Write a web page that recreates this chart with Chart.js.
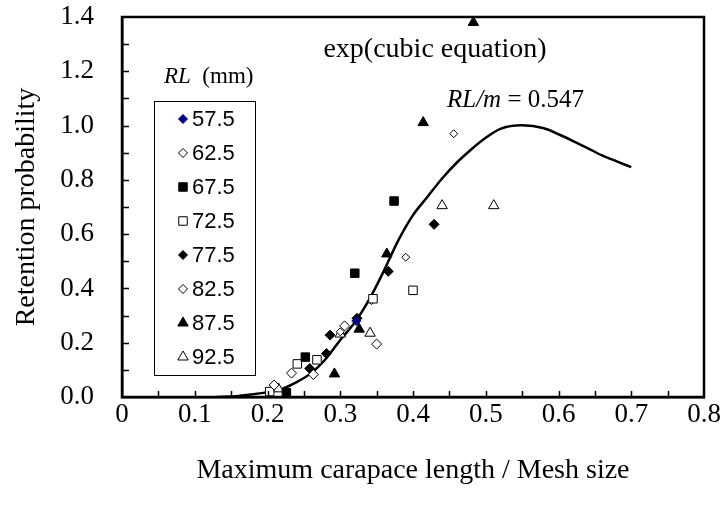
<!DOCTYPE html>
<html><head><meta charset="utf-8">
<script src="https://cdn.jsdelivr.net/npm/chart.js@4.4.0/dist/chart.umd.min.js"></script>
<style>html,body{margin:0;padding:0;background:#fff}#wrap{width:724px;height:507px;position:relative}</style>
</head><body><div id="wrap"><canvas id="c" width="724" height="507"></canvas></div>
<script>
// ---- data ----
const xTickValues = [0, 0.1, 0.2, 0.3, 0.4, 0.5, 0.6, 0.7, 0.8];
const yTickValues = [0, 0.2, 0.4, 0.6, 0.8, 1.0, 1.2, 1.4];
const seriesNames = ['57.5', '62.5', '67.5', '72.5', '77.5', '82.5', '87.5', '92.5'];

const rl575X = [0.322];
const rl575Y = [0.280];
const rl625X = [0.209, 0.233, 0.263, 0.306, 0.350];
const rl625Y = [0.044, 0.088, 0.083, 0.262, 0.195];
const rl675X = [0.226, 0.252, 0.320, 0.374];
const rl675Y = [0.016, 0.147, 0.456, 0.722];
const rl725X = [0.203, 0.241, 0.268, 0.345, 0.400];
const rl725Y = [0.020, 0.122, 0.137, 0.362, 0.393];
const rl775X = [0.258, 0.281, 0.286, 0.323, 0.366, 0.429];
const rl775Y = [0.105, 0.160, 0.228, 0.290, 0.463, 0.636];
const rl825X = [0.300, 0.343, 0.390, 0.456];
const rl825Y = [0.240, 0.355, 0.515, 0.970];
const rl875X = [0.292, 0.326, 0.364, 0.414, 0.483];
const rl875Y = [0.085, 0.250, 0.527, 1.011, 1.380];
const rl925X = [0.215, 0.300, 0.341, 0.440, 0.511];
const rl925Y = [0.030, 0.232, 0.235, 0.705, 0.705];

const curveX = [0.13,0.16,0.18,0.20,0.22,0.24,0.26,0.28,0.30,0.32,0.34,0.36,0.38,0.40,0.42,0.44,0.46,0.48,0.50,0.52,0.55,0.58,0.60,0.62,0.64,0.66,0.68,0.70];
const curveY = [0.000,0.004,0.010,0.018,0.030,0.055,0.088,0.140,0.210,0.275,0.360,0.465,0.578,0.670,0.738,0.805,0.863,0.912,0.955,0.988,1.001,0.990,0.968,0.943,0.917,0.890,0.868,0.847];

// ---- helpers ----
const pts = (xs, ys) => xs.map((x, i) => ({x: x, y: ys[i]}));
const styles = [
  {ps:'rectRot', r:4.5, fill:'#000080', stroke:'#000080'},
  {ps:'rectRot', r:5, fill:'#ffffff', stroke:'#000000'},
  {ps:'rect', r:6, fill:'#000000', stroke:'#000000'},
  {ps:'rect', r:6, fill:'#ffffff', stroke:'#000000'},
  {ps:'rectRot', r:5, fill:'#000000', stroke:'#000000'},
  {ps:'rectRot', r:4, fill:'#ffffff', stroke:'#000000'},
  {ps:'triangle', r:6, fill:'#000000', stroke:'#000000'},
  {ps:'triangle', r:6, fill:'#ffffff', stroke:'#000000'}
];
const seriesX = [rl575X, rl625X, rl675X, rl725X, rl775X, rl825X, rl875X, rl925X];
const seriesY = [rl575Y, rl625Y, rl675Y, rl725Y, rl775Y, rl825Y, rl875Y, rl925Y];

const datasets = [{
  label: 'curve', type: 'line', data: pts(curveX, curveY), showLine: true,
  borderColor: '#000', borderWidth: 2.5, pointRadius: 0, fill: false,
  cubicInterpolationMode: 'monotone', order: 2
}];
seriesNames.forEach((n, i) => {
  const s = styles[i];
  datasets.push({
    label: n, data: pts(seriesX[i], seriesY[i]), showLine: false,
    pointStyle: s.ps, pointRadius: s.r, pointBackgroundColor: s.fill,
    pointBorderColor: s.stroke, pointBorderWidth: 1, order: 1
  });
});

function drawMarker(ctx, s, x, y, r) {
  ctx.save();
  ctx.beginPath();
  if (s.ps === 'rectRot') {
    ctx.moveTo(x, y - r); ctx.lineTo(x + r, y); ctx.lineTo(x, y + r); ctx.lineTo(x - r, y);
  } else if (s.ps === 'rect') {
    const h = r * Math.SQRT1_2;
    ctx.rect(x - h, y - h, 2 * h, 2 * h);
  } else {
    ctx.moveTo(x, y - r); ctx.lineTo(x + r * 0.866, y + r * 0.5); ctx.lineTo(x - r * 0.866, y + r * 0.5);
  }
  ctx.closePath();
  ctx.fillStyle = s.fill; ctx.fill();
  ctx.lineWidth = 1; ctx.strokeStyle = s.stroke; ctx.stroke();
  ctx.restore();
}

const SERIF = '"Liberation Serif", "Times New Roman", serif';
const SANS = '"Liberation Sans", Arial, sans-serif';

const decor = {
  id: 'decor',
  afterDatasetsDraw(chart) {
    const ctx = chart.ctx, a = chart.chartArea;
    const xs = chart.scales.x, ys = chart.scales.y;
    ctx.save();
    ctx.strokeStyle = '#000';
    // inward ticks
    ctx.lineWidth = 1.5;
    for (let v = 0.05; v < 0.8; v += 0.05) {
      const px = Math.round(xs.getPixelForValue(v)) + 0.5;
      ctx.beginPath(); ctx.moveTo(px, a.bottom); ctx.lineTo(px, a.bottom - 6); ctx.stroke();
    }
    for (let v = 0.1; v < 1.4; v += 0.1) {
      const py = Math.round(ys.getPixelForValue(v)) + 0.5;
      ctx.beginPath(); ctx.moveTo(a.left, py); ctx.lineTo(a.left + 7, py); ctx.stroke();
    }
    // frame
    ctx.lineWidth = 2.5;
    ctx.strokeRect(a.left, a.top, a.right - a.left, a.bottom - a.top);
    // legend box
    ctx.lineWidth = 1;
    ctx.strokeRect(154.5, 101.5, 101, 274);
    // legend title
    ctx.fillStyle = '#000';
    ctx.textBaseline = 'middle';
    ctx.textAlign = 'left';
    ctx.font = 'italic 23px ' + SERIF;
    ctx.fillText('RL', 164, 77);
    const w1 = ctx.measureText('RL').width;
    ctx.font = '23px ' + SERIF;
    ctx.fillText('  (mm)', 164 + w1, 77);
    // legend entries
    ctx.font = '22px ' + SANS;
    seriesNames.forEach((n, i) => {
      const y = 119 + i * 34;
      drawMarker(ctx, styles[i], 183, y, styles[i].ps === 'rect' ? 6 : (styles[i].ps === 'triangle' ? 6 : 4.5));
      ctx.fillText(n, 192, y + 1);
    });
    // annotations
    ctx.font = '28px ' + SERIF;
    ctx.textAlign = 'center';
    ctx.fillText('exp(cubic equation)', 435, 50);
    ctx.textAlign = 'left';
    ctx.font = 'italic 25px ' + SERIF;
    ctx.fillText('RL/m', 447, 100);
    const w2 = ctx.measureText('RL/m').width;
    ctx.font = '25px ' + SERIF;
    ctx.fillText(' = 0.547', 447 + w2, 100);
    ctx.restore();
  }
};

new Chart(document.getElementById('c'), {
  type: 'scatter',
  data: { datasets: datasets },
  options: {
    responsive: false, animation: false, devicePixelRatio: 1,
    layout: { padding: { top: 17, right: 20, left: 0, bottom: 0 } },
    plugins: { legend: { display: false }, tooltip: { enabled: false } },
    scales: {
      x: {
        type: 'linear', min: 0, max: 0.8,
        afterBuildTicks: s => { s.ticks = xTickValues.map(v => ({value: v})); },
        afterFit: s => { s.height = 110; s.paddingLeft = 0; s.paddingRight = 0; },
        grid: { display: false, drawTicks: false },
        border: { display: true, color: '#000', width: 2.5 },
        ticks: { color: '#000', padding: 2, font: { family: SERIF, size: 27 },
          callback: v => v === 0 ? '0' : v.toFixed(1) },
        title: { display: true, text: 'Maximum carapace length / Mesh size', color: '#000',
          font: { family: SERIF, size: 28 }, padding: { top: 0, bottom: 20 } }
      },
      y: {
        type: 'linear', min: 0, max: 1.4,
        afterBuildTicks: s => { s.ticks = yTickValues.map(v => ({value: v})); },
        afterFit: s => { s.width = 122; s.paddingTop = 0; s.paddingBottom = 0; },
        grid: { display: false, drawTicks: false },
        border: { display: true, color: '#000', width: 2.5 },
        ticks: { color: '#000', padding: 28, font: { family: SERIF, size: 27 },
          callback: v => v.toFixed(1) },
        title: { display: true, text: 'Retention probability', color: '#000',
          font: { family: SERIF, size: 28 }, padding: { top: 10, bottom: 0 } }
      }
    }
  },
  plugins: [decor]
});
</script>
</body></html>
